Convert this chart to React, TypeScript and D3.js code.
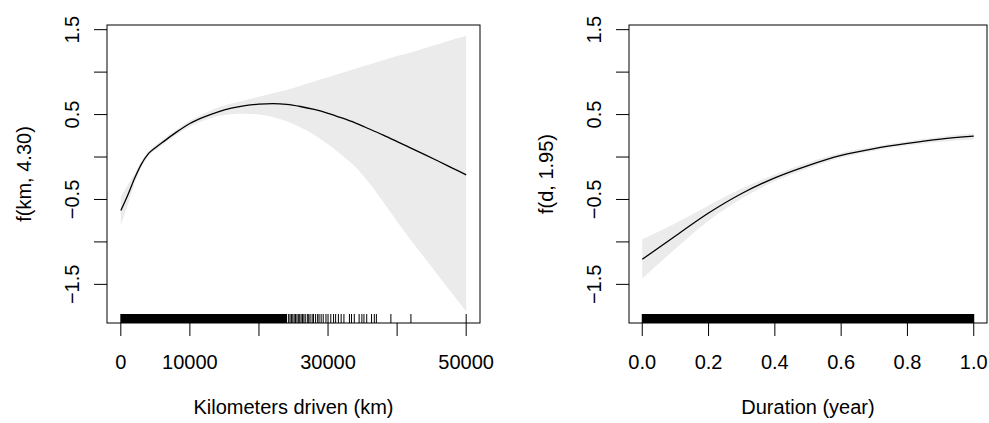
import React from "react";
import * as d3 from "d3";

// ---- Panel 1: kilometers driven ----
const kmGrid = [0, 1000, 2000, 3000, 4000, 5000, 6000, 8000, 10000, 12000, 14000, 16000, 18000, 20000, 22000, 24000, 26000, 28000, 30000, 32000, 34000, 36000, 38000, 40000, 42000, 44000, 46000, 48000, 50000];
const kmFit = [-0.63, -0.45, -0.25, -0.08, 0.04, 0.11, 0.17, 0.29, 0.395, 0.47, 0.53, 0.575, 0.605, 0.622, 0.628, 0.62, 0.595, 0.56, 0.515, 0.46, 0.4, 0.33, 0.258, 0.182, 0.105, 0.028, -0.05, -0.13, -0.21];
const kmUpper = [-0.47, -0.33, -0.2, -0.05, 0.07, 0.14, 0.2, 0.32, 0.43, 0.51, 0.58, 0.63, 0.67, 0.71, 0.75, 0.79, 0.84, 0.89, 0.94, 0.99, 1.04, 1.09, 1.14, 1.19, 1.23, 1.28, 1.33, 1.38, 1.425];
const kmLower = [-0.8, -0.57, -0.31, -0.12, 0.01, 0.08, 0.14, 0.26, 0.36, 0.43, 0.48, 0.505, 0.51, 0.5, 0.47, 0.42, 0.35, 0.26, 0.15, 0.02, -0.12, -0.31, -0.53, -0.76, -0.98, -1.19, -1.4, -1.61, -1.82];
const kmRugDense = [0, 24000];
const kmRugSparse = [24300, 24500, 24700, 24900, 25100, 25300, 25500, 25700, 25900, 26100, 26300, 26500, 26700, 27000, 27200, 27400, 27700, 27900, 28200, 28500, 28700, 29000, 29300, 29700, 30000, 30400, 30800, 31100, 31500, 31900, 32300, 33100, 33400, 33800, 34500, 34900, 35200, 35600, 36300, 36700, 37000, 39100, 42000, 50000];
const kmTicks = [0, 10000, 20000, 30000, 40000, 50000];
const kmTickLabels = ["0", "10000", "", "30000", "", "50000"];

// ---- Panel 2: duration ----
const dGrid = [0, 0.1, 0.2, 0.3, 0.4, 0.5, 0.6, 0.7, 0.8, 0.9, 1.0];
const dFit = [-1.205, -0.93, -0.66, -0.43, -0.245, -0.1, 0.02, 0.1, 0.16, 0.21, 0.245];
const dUpper = [-0.97, -0.78, -0.57, -0.37, -0.205, -0.065, 0.05, 0.125, 0.185, 0.24, 0.28];
const dLower = [-1.43, -1.08, -0.75, -0.49, -0.285, -0.135, -0.01, 0.075, 0.135, 0.18, 0.21];
const dRugDense = [0, 1];
const dTicks = [0, 0.2, 0.4, 0.6, 0.8, 1.0];
const dTickLabels = ["0.0", "0.2", "0.4", "0.6", "0.8", "1.0"];

// ---- shared y axis ----
const yTicks = [-1.5, -1.0, -0.5, 0, 0.5, 1.0, 1.5];
const yTickLabels = ["\u22121.5", "", "\u22120.5", "", "0.5", "", "1.5"];

const FONT = "'Liberation Sans', Arial, Helvetica, sans-serif";
const FS = 20;

type PanelProps = {
  left: number;
  right: number;
  xDomain: [number, number];
  grid: number[];
  fit: number[];
  upper: number[];
  lower: number[];
  rugDense: number[];
  rugSparse: number[];
  xTicks: number[];
  xLabels: string[];
  xTitle: string;
  yTitle: string;
};

const TOP = 25;
const BOTTOM = 323;

function Panel(p: PanelProps) {
  const x = d3.scaleLinear().domain(p.xDomain).range([p.left, p.right]);
  const y = d3.scaleLinear().domain([-1.955, 1.555]).range([BOTTOM, TOP]);
  const idx = d3.range(p.grid.length);
  const area = d3
    .area<number>()
    .x((i) => x(p.grid[i]))
    .y0((i) => y(p.lower[i]))
    .y1((i) => y(p.upper[i]))
    .curve(d3.curveMonotoneX);
  const line = d3
    .line<number>()
    .x((i) => x(p.grid[i]))
    .y((i) => y(p.fit[i]))
    .curve(d3.curveMonotoneX);
  const rugH = 9;
  const cx = (p.left + p.right) / 2;
  const cy = (TOP + BOTTOM) / 2;
  return (
    <g>
      <path d={area(idx) || ""} fill="#ebebeb" stroke="none" />
      <path d={line(idx) || ""} fill="none" stroke="#000" strokeWidth={1.3} />
      <rect
        x={x(p.rugDense[0]) - 0.5}
        y={BOTTOM - rugH}
        width={x(p.rugDense[1]) - x(p.rugDense[0]) + 1}
        height={rugH}
        fill="#000"
      />
      {p.rugSparse.map((v, i) => (
        <line key={"r" + i} x1={x(v)} x2={x(v)} y1={BOTTOM - rugH} y2={BOTTOM} stroke="#000" strokeWidth={1} />
      ))}
      <rect x={p.left} y={TOP} width={p.right - p.left} height={BOTTOM - TOP} fill="none" stroke="#000" strokeWidth={1} />
      {p.xTicks.map((t, i) => (
        <g key={"x" + i}>
          <line x1={x(t)} x2={x(t)} y1={BOTTOM} y2={BOTTOM + 13} stroke="#000" strokeWidth={1} />
          {p.xLabels[i] ? (
            <text x={x(t)} y={369} textAnchor="middle" fontFamily={FONT} fontSize={FS} fill="#000">
              {p.xLabels[i]}
            </text>
          ) : null}
        </g>
      ))}
      {yTicks.map((t, i) => (
        <g key={"y" + i}>
          <line x1={p.left} x2={p.left - 13} y1={y(t)} y2={y(t)} stroke="#000" strokeWidth={1} />
          {yTickLabels[i] ? (
            <text
              transform={`translate(${p.left - 28},${y(t)}) rotate(-90)`}
              textAnchor="middle"
              fontFamily={FONT}
              fontSize={FS}
              fill="#000"
            >
              {yTickLabels[i]}
            </text>
          ) : null}
        </g>
      ))}
      <text x={cx} y={414} textAnchor="middle" fontFamily={FONT} fontSize={FS} fill="#000">
        {p.xTitle}
      </text>
      <text
        transform={`translate(${p.left - 76},${cy}) rotate(-90)`}
        textAnchor="middle"
        fontFamily={FONT}
        fontSize={FS}
        fill="#000"
      >
        {p.yTitle}
      </text>
    </g>
  );
}

export default function App() {
  return (
    <div style={{ position: "fixed", left: 0, top: 0, width: 989, height: 423, background: "#fff" }}>
      <svg width={989} height={423} style={{ display: "block" }}>
        <rect x={0} y={0} width={989} height={423} fill="#fff" />
        <Panel
          left={107}
          right={480}
          xDomain={[-2000, 52000]}
          grid={kmGrid}
          fit={kmFit}
          upper={kmUpper}
          lower={kmLower}
          rugDense={kmRugDense}
          rugSparse={kmRugSparse}
          xTicks={kmTicks}
          xLabels={kmTickLabels}
          xTitle="Kilometers driven (km)"
          yTitle="f(km, 4.30)"
        />
        <Panel
          left={629}
          right={987}
          xDomain={[-0.04, 1.04]}
          grid={dGrid}
          fit={dFit}
          upper={dUpper}
          lower={dLower}
          rugDense={dRugDense}
          rugSparse={[]}
          xTicks={dTicks}
          xLabels={dTickLabels}
          xTitle="Duration (year)"
          yTitle="f(d, 1.95)"
        />
      </svg>
    </div>
  );
}
